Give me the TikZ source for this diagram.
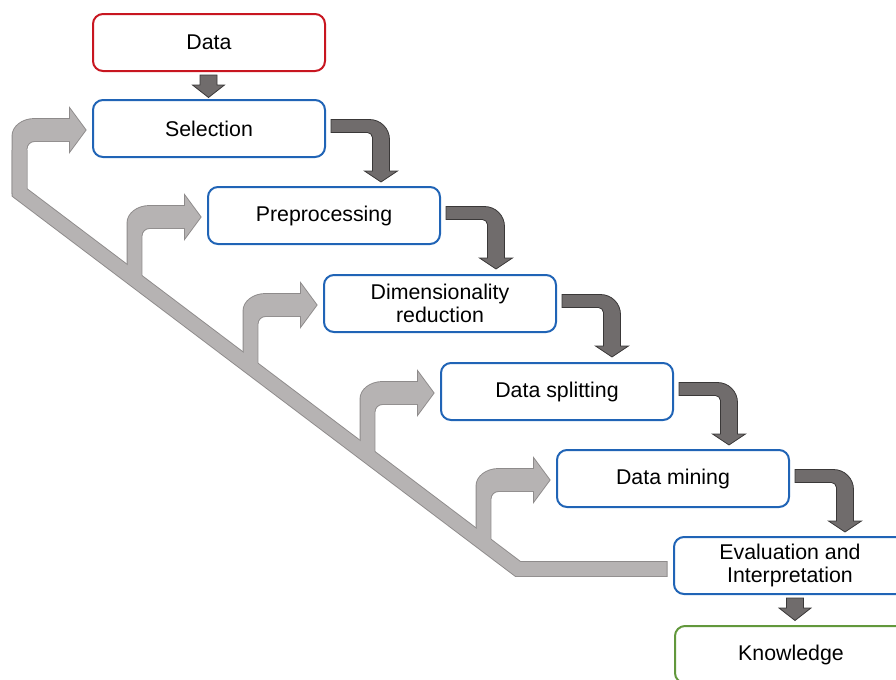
\documentclass[tikz,border=0pt]{standalone}
\usepackage{fontspec}
\setmainfont{Liberation Sans}
\usetikzlibrary{calc}
\definecolor{boxblue}{RGB}{32,100,182}
\definecolor{boxred}{RGB}{200,22,32}
\definecolor{boxgreen}{RGB}{98,152,60}
\definecolor{grayfill}{RGB}{182,179,179}
\definecolor{grayline}{RGB}{142,139,139}
\definecolor{darkfill}{RGB}{112,108,108}
\definecolor{darkline}{RGB}{58,56,56}
\begin{document}
\begin{tikzpicture}[x=0.75pt,y=-0.75pt,
  box/.style={draw=boxblue, line width=1.5pt, rounded corners=7.5pt,
    minimum width=174pt, minimum height=42.75pt, outer sep=0pt, inner sep=0pt,
    align=center, fill=white, font=\fontsize{16}{17.5}\selectfont},
  darkarrow/.style={fill=darkfill, draw=darkline, line width=0.6pt, line join=miter},
  grayout/.style={draw=grayline, fill=grayline, line width=1.4pt, line join=miter},
  grayin/.style={fill=grayfill},
  pics/bentarrow/.style={code={
    \path[darkarrow] (6,19.5) -- (44.5,19.5)
      .. controls (55.55,19.5) and (64.5,28.45) .. (64.5,39.5)
      -- (64.5,71) -- (72.5,71) -- (56,82) -- (39.5,71) -- (47.5,71) -- (47.5,37.5)
      .. controls (47.5,34.74) and (44.74,32.5) .. (42.5,32.5)
      -- (6,32.5) -- cycle;
  }},
  pics/downarrow/.style={code={
    \path[darkarrow] (-8.5,0) -- (8.5,0) -- (8.5,10) -- (16,10) -- (0,22.5)
      -- (-16,10) -- (-8.5,10) -- cycle;
  }},
  pics/grayloop/.style={code={
    \path[#1] (-7,63) -- (-7,6)
      .. controls (-7,-3.39) and (2.85,-11) .. (15,-11)
      -- (50.5,-11) -- (50.5,-21) -- (66,0) -- (50.5,21) -- (50.5,11) -- (15,11)
      .. controls (10.58,11) and (7,14.58) .. (7,19)
      -- (7,63) -- cycle;
  }}
]
\useasboundingbox (0,0) rectangle (896,679);

% boxes
\node[box, draw=boxred] (data) at (209,42.5) {Data};
\node[box] (sel) at (209,128.5) {Selection};
\node[box] (pre) at (324,215.5) {Preprocessing};
\node[box] (dim) at (440,303.5) {Dimensionality\\reduction};
\node[box] (split) at (557,391.5) {Data splitting};
\node[box] (mine) at (673,478.5) {Data mining};
\node[box] (eval) at (790,565.5) {Evaluation and\\Interpretation};
\node[box, draw=boxgreen] (know) at (791,654.5) {Knowledge};

% feedback band coordinates
\coordinate (b0) at ($(sel.west)+(-73.5,21.5)$);
\coordinate (b1) at ($(sel.west)+(-73.5,63.9)$);
\coordinate (b2) at ($(sel.west)+(425,440.5)$);
\coordinate (b3) at ($(eval.west)+(-7.3,3.5)$);
\coordinate (b3o) at ($(eval.west)+(-6.5,3.5)$);

% gray feedback: outline layer
\draw[grayline, line width=11.9pt, line join=miter] (b0) -- (b1) -- (b2) -- (b3o);
\foreach \b in {sel,pre,dim,split,mine}
  \pic at ($(\b.west)+(-73.5,1.5)$) {grayloop=grayout};
% gray feedback: fill layer
\draw[grayfill, line width=10.5pt, line join=miter] (b0) -- (b1) -- (b2) -- (b3);
\foreach \b in {sel,pre,dim,split,mine}
  \pic at ($(\b.west)+(-73.5,1.5)$) {grayloop=grayin};

% dark forward arrows
\foreach \b in {sel,pre,dim,split,mine}
  \pic at (\b.north east) {bentarrow};
\pic at ($(data.south)+(-0.5,4)$) {downarrow};
\pic at ($(eval.south)+(5,4)$) {downarrow};
\end{tikzpicture}
\end{document}
